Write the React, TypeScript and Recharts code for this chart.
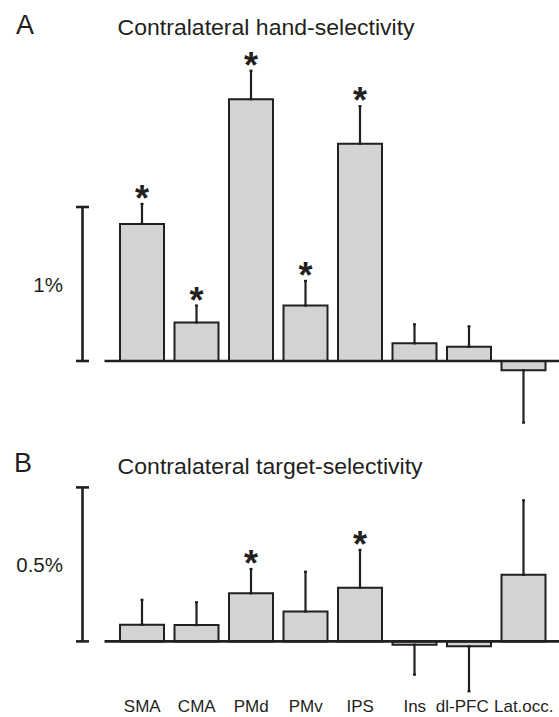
import { BarChart, Bar, XAxis, YAxis, ReferenceLine, ErrorBar, LabelList } from 'recharts';

const regions = ['SMA', 'CMA', 'PMd', 'PMv', 'IPS', 'Ins', 'dl-PFC', 'Lat.occ.'];

// A: contralateral hand-selectivity (% signal change)
const handMean = [0.89, 0.25, 1.7, 0.36, 1.41, 0.115, 0.093, -0.06];
const handErr = [0.13, 0.11, 0.185, 0.16, 0.245, 0.123, 0.132, 0.34];
const handSig = [true, true, true, true, true, false, false, false];

// B: contralateral target-selectivity
const targetMean = [0.054, 0.053, 0.156, 0.097, 0.174, -0.011, -0.016, 0.216];
const targetErr = [0.081, 0.074, 0.079, 0.129, 0.123, 0.097, 0.146, 0.242];
const targetSig = [false, false, true, false, true, false, false, false];

const INK = '#231f20';
const FILL = '#d1d3d4';
const FONT = '"Liberation Sans", Arial, Helvetica, sans-serif';
const W = 559;
const AXIS_W = 104.5;
const PAD = { left: 10.5, right: 8 };
const SCALE_X = 82.5;

// one-sided error bars: up for positive means, down for negative ones
function buildRows(mean: number[], err: number[], sig: boolean[]) {
  return regions.map((name, i) => ({
    name,
    mean: mean[i],
    err: mean[i] >= 0 ? [0, err[i]] : [err[i], 0],
    up: mean[i] >= 0 ? err[i] : 0,
    sig: sig[i] ? '*' : '',
  }));
}

interface PanelProps {
  rows: ReturnType<typeof buildRows>;
  domain: [number, number];
  scaleTop: number;
  scaleLabel: string;
  marginTop: number;
  plotH: number;
  bottom: number;
  showLabels: boolean;
  top: number;
}

function Panel({ rows, domain, scaleTop, scaleLabel, marginTop, plotH, bottom, showLabels, top }: PanelProps) {
  const unitPx = plotH / (domain[1] - domain[0]);
  const height = marginTop + plotH + bottom;

  const scaleTick = (p: any) => {
    const len = scaleTop * unitPx;
    return (
      <g>
        <line x1={SCALE_X} x2={SCALE_X} y1={p.y} y2={p.y + len} stroke={INK} strokeWidth={2.6} />
        <line x1={SCALE_X - 6.5} x2={SCALE_X + 6.5} y1={p.y} y2={p.y} stroke={INK} strokeWidth={2.6} />
        <line x1={SCALE_X - 6.5} x2={SCALE_X + 6.5} y1={p.y + len} y2={p.y + len} stroke={INK} strokeWidth={2.6} />
        <text x={63} y={p.y + len / 2 + 7.5} textAnchor="end" fontSize={20.5} fill={INK} fontFamily={FONT}>
          {scaleLabel}
        </text>
      </g>
    );
  };

  // dl-PFC sits a little left of its bar so it clears Lat.occ.
  const catTick = (p: any) => (
    <text
      x={p.x}
      y={p.y + 9}
      dx={p.payload.value === 'dl-PFC' ? -7 : 0}
      textAnchor="middle"
      fontSize={17}
      fill={INK}
      fontFamily={FONT}
    >
      {p.payload.value}
    </text>
  );

  const star = (p: any) => {
    if (!p.value) return null;
    const errTop = p.y - rows[p.index].up * unitPx;
    return (
      <text x={p.x + p.width / 2} y={errTop + 7} textAnchor="middle" fontSize={36} fontWeight="bold" fill={INK} fontFamily={FONT}>
        *
      </text>
    );
  };

  return (
    <div style={{ position: 'absolute', left: 0, top }}>
      <BarChart width={W} height={height} data={rows} margin={{ top: marginTop, right: 0, bottom: showLabels ? 0 : bottom, left: 0 }}>
        <XAxis
          dataKey="name"
          hide={!showLabels}
          height={showLabels ? bottom : 0}
          padding={PAD}
          axisLine={false}
          tickLine={false}
          tickSize={0}
          tickMargin={0}
          interval={0}
          tick={catTick}
        />
        <YAxis
          domain={domain}
          ticks={[scaleTop]}
          width={AXIS_W}
          axisLine={false}
          tickLine={false}
          allowDataOverflow
          tick={scaleTick}
        />
        <ReferenceLine y={0} stroke={INK} strokeWidth={2.6} />
        <Bar dataKey="mean" fill={FILL} stroke={INK} strokeWidth={2} barSize={44} isAnimationActive={false}>
          <ErrorBar dataKey="err" direction="y" width={1.5} stroke={INK} strokeWidth={2.2} isAnimationActive={false} />
          <LabelList dataKey="sig" content={star} />
        </Bar>
      </BarChart>
    </div>
  );
}

export default function App() {
  const handRows = buildRows(handMean, handErr, handSig);
  const targetRows = buildRows(targetMean, targetErr, targetSig);
  return (
    <div style={{ position: 'absolute', left: 0, top: 0, width: W, height: 717, background: '#fff', fontFamily: FONT }}>
      <Panel rows={handRows} domain={[-0.5, 2]} scaleTop={1} scaleLabel="1%" marginTop={53} plotH={385} bottom={2} showLabels={false} top={0} />
      <Panel rows={targetRows} domain={[-0.2, 0.55]} scaleTop={0.5} scaleLabel="0.5%" marginTop={32} plotH={231} bottom={14} showLabels top={440} />
      <svg width={W} height={717} style={{ position: 'absolute', left: 0, top: 0, pointerEvents: 'none' }}>
        <g fill={INK} fontFamily={FONT}>
          <text x={16} y={34} fontSize={27}>A</text>
          <text x={117.6} y={35} fontSize={22.5} textLength={297} lengthAdjust="spacingAndGlyphs">
            Contralateral hand-selectivity
          </text>
          <text x={14} y={472} fontSize={27}>B</text>
          <text x={117.6} y={474} fontSize={22.5} textLength={305} lengthAdjust="spacingAndGlyphs">
            Contralateral target-selectivity
          </text>
        </g>
      </svg>
    </div>
  );
}
